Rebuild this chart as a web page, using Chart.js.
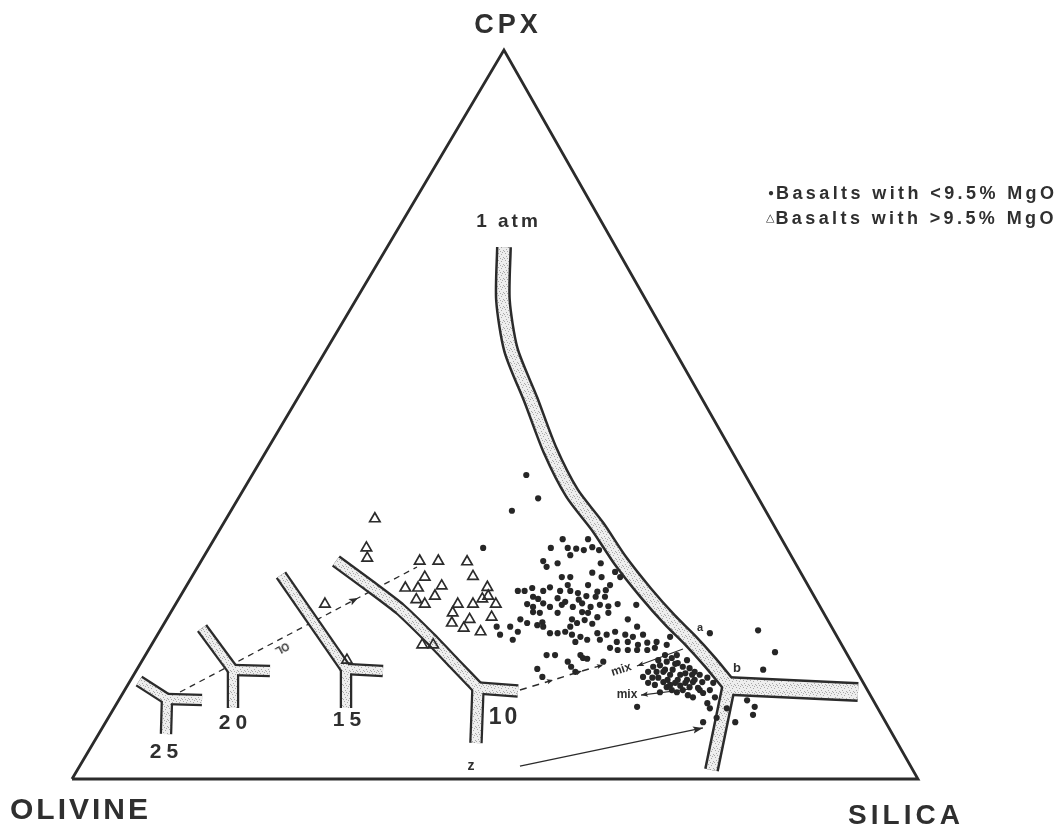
<!DOCTYPE html>
<html><head><meta charset="utf-8">
<script src="https://cdn.jsdelivr.net/npm/chart.js@4.4.1/dist/chart.umd.min.js"></script>
<style>
html,body{margin:0;padding:0;background:#fff;}
#wrap{position:relative;width:1064px;height:828px;overflow:hidden;background:#fff;}
canvas{position:absolute;left:0;top:0;}
.t{position:absolute;transform:translate(-50%,-50%);white-space:nowrap;font-family:"Liberation Sans",Arial,Helvetica,sans-serif;color:#2f2f2f;line-height:1;}
.l{position:absolute;transform:translateY(-50%);white-space:nowrap;font-family:"Liberation Sans",Arial,Helvetica,sans-serif;color:#2f2f2f;line-height:1;font-weight:bold;font-size:18px;letter-spacing:3.4px;}
</style></head>
<body>
<div id="wrap">
<canvas id="c" width="1064" height="828"></canvas>
<div class="t" style="left:506px;top:24px;font-size:27px;font-weight:bold;letter-spacing:4px;padding-left:4px;">CPX</div>
<div class="t" style="left:79px;top:809px;font-size:30px;font-weight:bold;letter-spacing:3px;padding-left:3px;">OLIVINE</div>
<div class="t" style="left:904px;top:815px;font-size:28px;font-weight:bold;letter-spacing:4px;padding-left:4px;">SILICA</div>
<div class="l" style="left:768px;top:193px;"><span style="font-size:10px;letter-spacing:0;position:relative;top:-3px;margin-right:2px;">●</span>Basalts with &lt;9.5% MgO</div>
<div class="l" style="left:766px;top:218px;"><span style="font-size:11px;letter-spacing:0;font-family:'DejaVu Sans';position:relative;top:-3px;margin-right:1px;">△</span>Basalts with &gt;9.5% MgO</div>
<div class="t" style="left:507px;top:220px;font-size:19px;font-weight:bold;letter-spacing:3px;padding-left:3px;">1 atm</div>
<div class="t" style="left:164px;top:750px;font-size:21px;font-weight:bold;letter-spacing:5px;padding-left:5px;">25</div>
<div class="t" style="left:233px;top:721px;font-size:21px;font-weight:bold;letter-spacing:5px;padding-left:5px;">20</div>
<div class="t" style="left:347px;top:718px;font-size:21px;font-weight:bold;letter-spacing:5px;padding-left:5px;">15</div>
<div class="t" style="left:503px;top:716px;font-size:23px;font-weight:bold;letter-spacing:3px;padding-left:3px;">10</div>
<div class="t" style="left:471px;top:765px;font-size:14px;font-weight:bold;">z</div>
<div class="t" style="left:700px;top:627px;font-size:11px;font-weight:bold;">a</div>
<div class="t" style="left:737px;top:667px;font-size:13px;font-weight:bold;">b</div>
<div class="t" style="left:621px;top:669px;font-size:12px;font-weight:bold;transform:translate(-50%,-50%) rotate(-18deg);">mix</div>
<div class="t" style="left:627px;top:694px;font-size:12px;font-weight:bold;">mix</div>
<div class="t" style="left:282px;top:648px;font-size:10px;font-weight:bold;transform:translate(-50%,-50%) rotate(152deg);">OL</div>
</div>
<script>
// Ternary frame: x = horizontal position along the Olivine -> Silica edge (%), y = CPX (%)
const triangleEdges = [[0,0],[100,0],[51.06,100],[0,0]];

// Cotectic bands (1 atm and 10/15/20/25 kbar pseudo-invariant points)
const atm1Curve = [[51.06,72.97],[50.94,65.70],[51.89,58.85],[54.25,51.99],[56.50,45.13],[59.10,39.23],[62.17,34.57],[64.77,30.04],[67.85,25.51],[70.68,21.81],[73.05,19.07],[75.41,16.05],[77.66,12.89]];
const atm1Right = [[77.66,12.76],[92.91,11.93]];
const atm1Down = [[77.66,12.89],[75.59,1.23]];
const kb10Upper = [[31.20,29.90],[35.22,26.47],[38.77,23.32],[42.32,19.34],[45.27,15.77],[47.99,12.48]];
const kb10Right = [[47.99,12.48],[52.72,12.07]];
const kb10Down = [[47.99,12.48],[47.75,4.94]];
const kb15Upper = [[24.70,27.98],[32.39,15.09]];
const kb15Right = [[32.39,15.09],[36.76,14.81]];
const kb15Down = [[32.39,15.09],[32.39,9.74]];
const kb20Upper = [[15.37,20.71],[19.03,14.95]];
const kb20Right = [[19.03,14.95],[23.40,14.81]];
const kb20Down = [[19.03,14.95],[19.03,9.74]];
const kb25Upper = [[7.92,13.44],[11.23,10.97]];
const kb25Right = [[11.23,10.97],[15.37,10.84]];
const kb25Down = [[11.23,10.97],[11.11,6.17]];

// Trends
const olivineTrend = [[12.77,11.93],[33.81,24.83],[40.78,29.08]];
const mixTrend = [[52.95,12.21],[56.85,13.58],[60.28,14.81],[62.76,15.64]];
const mixArrowUpper = [[72.22,17.83],[66.78,15.50]];
const mixArrowLower = [[73.05,12.35],[67.26,11.52]];
const zArrow = [[52.95,1.78],[74.58,7.00]];

// Basalts with <9.5% MgO
const basaltsLowMgO = [
[53.7,41.7],[55.1,38.5],[52.0,36.8],[48.6,31.7],
[58.0,32.9],[61.0,32.9],[56.6,31.7],[58.6,31.7],[59.6,31.6],[60.5,31.4],[61.5,31.8],[62.3,31.4],
[58.9,30.7],[55.7,29.9],[57.4,29.6],[62.5,29.6],[56.1,29.1],[64.2,28.4],[61.5,28.3],[57.9,27.7],
[58.9,27.7],[64.8,27.7],[62.6,27.7],[58.6,26.6],[61.0,26.6],[54.4,26.2],[52.7,25.8],[53.5,25.8],
[55.7,25.8],[56.5,26.3],[57.7,25.8],[58.9,25.8],[59.8,25.5],[62.1,25.7],[63.1,25.9],[63.6,26.6],
[54.5,25.0],[55.1,24.7],[57.4,24.8],[58.3,24.3],[59.9,24.6],[60.8,25.1],[61.9,25.0],[63.0,25.0],
[53.8,24.0],[54.5,23.6],[55.7,24.1],[56.5,23.6],[57.9,23.9],[59.2,23.6],[60.3,24.1],[61.3,23.6],
[62.4,23.9],[63.4,23.7],[64.5,24.0],[66.7,23.9],[54.5,22.9],[55.3,22.8],[57.4,22.8],[60.3,22.9],
[61.0,22.8],[62.1,22.2],[63.4,22.8],[53.0,21.9],[53.8,21.4],[55.6,21.5],[59.1,21.9],[59.7,21.4],
[60.6,21.8],[61.5,21.3],[65.7,21.9],[66.8,20.9],[51.8,20.9],[55.0,21.1],[55.7,20.9],[58.9,20.9],
[50.2,20.9],[50.6,19.8],[52.1,19.1],[52.7,20.2],[56.5,20.0],[57.4,20.0],[58.3,20.2],[59.1,19.8],
[60.1,19.5],[59.5,18.8],[60.9,19.1],[62.4,19.1],[63.2,19.8],[64.2,20.2],[65.4,19.8],[66.3,19.5],
[67.5,19.8],[64.4,18.8],[65.7,18.8],[66.9,18.4],[68.0,18.7],[69.1,18.8],[70.3,18.4],[70.7,19.5],
[63.6,18.0],[64.5,17.7],[65.7,17.7],[66.8,17.7],[68.0,17.7],[68.9,18.0],[56.1,17.0],[57.1,17.0],
[60.1,17.0],[60.4,16.6],[60.9,16.5],[58.6,16.1],[59.0,15.4],[59.5,14.7],[62.8,16.1],[55.0,15.1],
[55.6,14.0],[62.1,20.0],
[67.5,14.0],[68.6,13.9],[68.9,12.9],[69.5,11.9],[70.3,16.1],[70.9,16.6],[71.6,15.9],[72.2,15.4],
[73.0,15.2],[73.6,14.7],[74.2,14.3],[74.5,13.3],[75.1,13.9],[75.8,13.2],[75.4,12.2],[74.6,11.8],
[74.0,12.5],[73.4,11.2],[72.8,11.5],[73.0,12.6],[72.2,12.2],[71.3,13.2],[70.4,13.6],[69.9,14.7],
[69.5,15.6],[71.0,15.0],[71.9,14.3],[72.7,13.6],[73.4,13.3],[70.3,12.6],[70.9,12.2],[71.5,11.9],
[69.9,13.3],[69.1,14.7],[68.7,15.4],[69.3,16.3],[70.1,17.0],[71.5,17.0],[72.7,16.3],[75.1,10.4],
[75.4,9.7],[76.0,11.2],[66.8,9.9],[70.7,14.3],[72.5,13.2],[71.6,13.6],[68.1,13.2],
[70.1,15.0],[71.3,15.8],[72.5,14.5],[73.6,13.6],[71.9,12.8],[70.7,12.9],[74.2,12.2],[73.3,14.3],
[69.3,13.9],[68.1,14.7],
[75.4,20.0],[81.1,20.4],[83.1,17.4],[81.7,15.0],[79.8,10.8],[80.7,9.9],[80.5,8.8],[74.6,7.8],
[78.4,7.8],[77.4,9.7],[76.2,8.4]
];

// Basalts with >9.5% MgO
const basaltsHighMgO = [
[35.8,35.7],[34.8,31.7],[34.9,30.3],[29.9,24.0],[41.1,29.9],[43.3,29.9],[46.7,29.8],[41.7,27.7],
[47.4,27.8],[39.4,26.2],[40.9,26.2],[43.7,26.5],[42.9,25.1],[49.1,26.3],[40.7,24.6],[41.7,24.0],
[45.6,24.0],[48.5,24.7],[49.2,25.1],[47.4,24.0],[50.1,24.0],[45.0,22.8],[47.0,21.9],[44.9,21.4],
[49.6,22.2],[46.3,20.7],[48.3,20.2],[41.4,18.4],[42.7,18.4],[32.5,16.3]
];

const INK = '#2b2b2b';
function pts(a){ return a.map(p => ({x:p[0], y:p[1]})); }
function stipple(){
  const c = document.createElement('canvas'); c.width = 7; c.height = 7;
  const g = c.getContext('2d');
  g.fillStyle = '#eeeeee'; g.fillRect(0,0,7,7);
  g.fillStyle = '#a8a8a8';
  [[1,1],[4,2],[2,4],[6,5],[0,6],[5,0],[3,6]].forEach(([a,b]) => g.fillRect(a,b,1,1));
  return g.createPattern(c,'repeat');
}
const FILL = stipple();
function band(a, outer, inner, tension){
  const base = {showLine:true, pointRadius:0, borderCapStyle:'butt', borderJoinStyle:'miter', tension: tension||0};
  return [
    Object.assign({}, base, {data:pts(a), borderColor:INK, borderWidth:outer, order:40}),
    Object.assign({}, base, {data:pts(a), borderColor:FILL, borderWidth:inner, order:39})
  ];
}
function line(a, opts){
  return Object.assign({data:pts(a), showLine:true, pointRadius:0, borderColor:INK, borderWidth:1.4, order:10}, opts||{});
}

const datasets = [
  {data:pts(basaltsLowMgO), showLine:false, pointRadius:3.1, pointBackgroundColor:'#262626', pointBorderWidth:0, borderColor:'#262626', order:1},
  {data:pts(basaltsHighMgO), showLine:false, pointStyle:'triangle', pointRadius:6, pointBackgroundColor:'rgba(255,255,255,0)', pointBorderColor:'#2b2b2b', pointBorderWidth:1.7, borderColor:'#2b2b2b', order:2},
  line(triangleEdges, {borderWidth:2.8, borderJoinStyle:'miter', order:60}),
  line(olivineTrend, {borderDash:[6,5], borderWidth:1.3, order:50, arrowAt:[1], arrowLen:9, arrowWid:3.5}),
  line(mixTrend, {borderDash:[7,6], borderWidth:1.5, order:10, arrowAt:[1,2,3], arrowLen:6, arrowWid:2.5}),
  line(mixArrowUpper, {borderWidth:1.2, arrowAt:[1], arrowLen:7, arrowWid:2.6}),
  line(mixArrowLower, {borderWidth:1.2, arrowAt:[1], arrowLen:7, arrowWid:2.6}),
  line(zArrow, {borderWidth:1.3, arrowAt:[1], arrowLen:10, arrowWid:3.5}),
  ...band(atm1Curve, 16, 11, 0.25),
  ...band(atm1Right, 20, 15),
  ...band(atm1Down, 15, 10),
  ...band(kb10Upper, 13.5, 9, 0.2),
  ...band(kb10Right, 13.5, 9),
  ...band(kb10Down, 13.5, 9),
  ...band(kb15Upper, 12.5, 8),
  ...band(kb15Right, 12.5, 8),
  ...band(kb15Down, 12.5, 8),
  ...band(kb20Upper, 12.5, 8),
  ...band(kb20Right, 12.5, 8),
  ...band(kb20Down, 12.5, 8),
  ...band(kb25Upper, 12.5, 8),
  ...band(kb25Right, 12.5, 8),
  ...band(kb25Down, 12.5, 8)
];

const arrowPlugin = {
  id:'arrowHeads',
  afterDatasetsDraw(chart){
    const ctx = chart.ctx;
    chart.data.datasets.forEach((ds, i) => {
      if (!ds.arrowAt) return;
      const meta = chart.getDatasetMeta(i);
      ds.arrowAt.forEach(k => {
        const p = meta.data[k], q = meta.data[k-1];
        const ang = Math.atan2(p.y - q.y, p.x - q.x);
        const L = ds.arrowLen, W = ds.arrowWid;
        ctx.save();
        ctx.translate(p.x, p.y); ctx.rotate(ang);
        ctx.beginPath(); ctx.moveTo(0,0); ctx.lineTo(-L, W); ctx.lineTo(-L*0.8, 0); ctx.lineTo(-L, -W); ctx.closePath();
        ctx.fillStyle = ds.borderColor; ctx.fill();
        ctx.restore();
      });
    });
  }
};

new Chart(document.getElementById('c'), {
  type:'scatter',
  data:{datasets},
  plugins:[arrowPlugin],
  options:{
    responsive:false, animation:false, events:[],
    layout:{padding:0, autoPadding:false},
    plugins:{legend:{display:false}, tooltip:{enabled:false}, title:{display:false}},
    scales:{
      x:{type:'linear', min:-8.51, max:117.26, display:false},
      y:{type:'linear', min:-6.72, max:106.86, display:false}
    }
  }
});
</script>
</body></html>
